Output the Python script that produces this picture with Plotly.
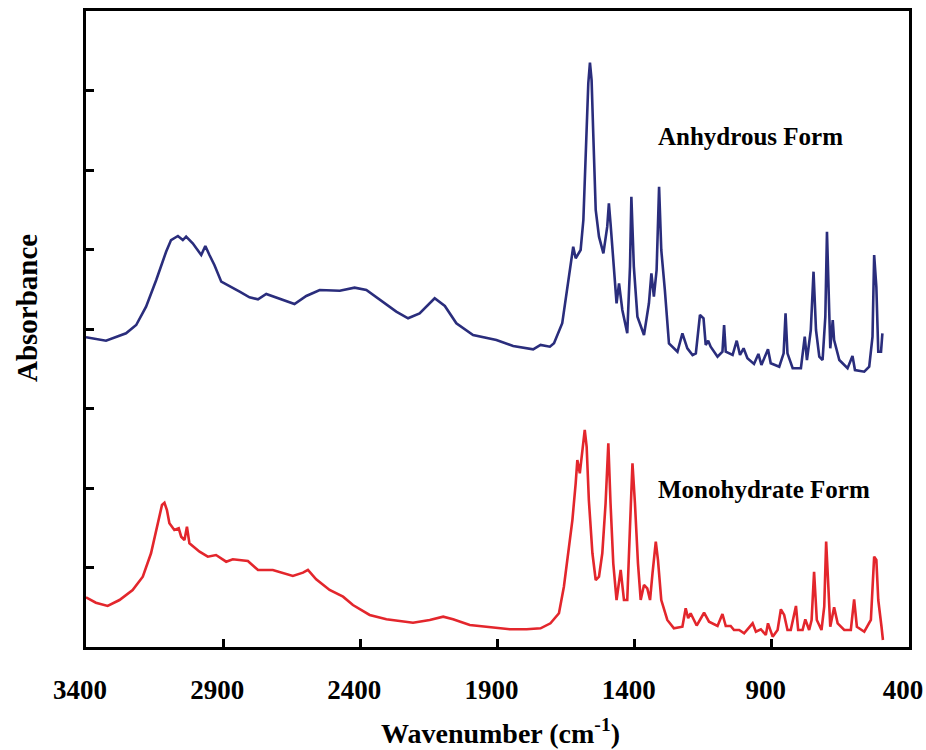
import plotly.graph_objects as go

# FTIR spectra of the two solid forms (wavenumber in cm-1, absorbance offset for display)
anhydrous_wn = [3400, 3327, 3254, 3217, 3181, 3144, 3108, 3090, 3065, 3047, 3035, 3011, 2980, 2965,
                2950, 2932, 2907, 2877, 2840, 2804, 2773, 2743, 2694, 2640, 2597, 2548, 2475, 2421,
                2378, 2329, 2269, 2226, 2184, 2129, 2092, 2050, 1989, 1904, 1843, 1770, 1743, 1709,
                1694, 1664, 1646, 1631, 1624, 1615, 1597, 1587, 1579, 1569, 1563, 1557, 1551, 1542,
                1530, 1514, 1500, 1494, 1488, 1476, 1466, 1457, 1445, 1427, 1417, 1412, 1403, 1390,
                1366, 1348, 1339, 1330, 1320, 1311, 1303, 1290, 1275, 1244, 1226, 1208, 1189, 1177,
                1162, 1149, 1141, 1132, 1123, 1098, 1080, 1074, 1068, 1043, 1028, 1016, 1003, 989,
                965, 949, 938, 914, 904, 873, 857, 850, 843, 824, 794, 780, 772, 758, 748, 739, 727,
                715, 705, 699, 693, 687, 678, 673, 654, 624, 606, 597, 563, 545, 533, 527, 519, 512,
                502, 497]
anhydrous_abs = [3.896, 3.853, 3.946, 4.050, 4.281, 4.616, 4.972, 5.119, 5.170, 5.119, 5.161, 5.078,
                 4.931, 5.044, 4.931, 4.805, 4.595, 4.541, 4.469, 4.399, 4.374, 4.440, 4.381, 4.314,
                 4.415, 4.491, 4.482, 4.520, 4.491, 4.365, 4.218, 4.135, 4.197, 4.386, 4.289, 4.072,
                 3.925, 3.862, 3.786, 3.745, 3.799, 3.777, 3.820, 4.072, 4.491, 4.826, 5.035, 4.889,
                 4.994, 5.371, 6.167, 7.091, 7.350, 7.132, 6.462, 5.497, 5.161, 4.952, 5.287, 5.581,
                 5.330, 4.784, 4.323, 4.575, 4.239, 3.946, 4.784, 5.664, 4.784, 4.155, 3.925, 4.323,
                 4.701, 4.406, 4.742, 5.790, 4.994, 4.491, 3.820, 3.714, 3.946, 3.757, 3.673, 3.694,
                 4.176, 4.135, 3.799, 3.853, 3.777, 3.652, 3.714, 4.050, 3.714, 3.673, 3.853, 3.673,
                 3.757, 3.631, 3.560, 3.686, 3.547, 3.745, 3.569, 3.526, 3.694, 4.197, 3.694, 3.506,
                 3.506, 3.903, 3.610, 3.987, 4.721, 3.987, 3.652, 3.610, 4.155, 5.224, 4.406, 3.757,
                 4.113, 3.862, 3.610, 3.506, 3.660, 3.484, 3.463, 3.526, 3.903, 4.931, 4.532, 3.714,
                 3.714, 3.946]

monohydrate_wn = [3400, 3364, 3321, 3278, 3230, 3193, 3163, 3138, 3123, 3114, 3105, 3096, 3078, 3062,
                  3053, 3041, 3032, 3023, 2986, 2956, 2926, 2889, 2865, 2810, 2773, 2719, 2646, 2609,
                  2591, 2561, 2512, 2463, 2427, 2366, 2305, 2208, 2147, 2098, 2062, 2001, 1940, 1855,
                  1794, 1743, 1707, 1676, 1658, 1640, 1627, 1615, 1609, 1600, 1591, 1582, 1575, 1567,
                  1554, 1542, 1530, 1518, 1506, 1496, 1488, 1478, 1466, 1451, 1439, 1427, 1417, 1408,
                  1399, 1388, 1378, 1366, 1354, 1344, 1335, 1323, 1315, 1303, 1281, 1257, 1226, 1214,
                  1205, 1196, 1174, 1147, 1129, 1098, 1080, 1068, 1050, 1038, 1019, 1001, 970, 958,
                  940, 922, 914, 897, 879, 867, 855, 843, 831, 812, 804, 788, 778, 764, 755, 746, 736,
                  719, 709, 702, 694, 687, 673, 660, 636, 612, 600, 590, 563, 539, 527, 519, 512, 505,
                  500, 495]
monohydrate_abs = [0.625, 0.557, 0.516, 0.591, 0.717, 0.884, 1.179, 1.556, 1.786, 1.815, 1.723,
                   1.556, 1.472, 1.493, 1.387, 1.346, 1.513, 1.304, 1.199, 1.136, 1.157, 1.073,
                   1.103, 1.082, 0.969, 0.969, 0.893, 0.935, 0.969, 0.852, 0.717, 0.633, 0.528,
                   0.403, 0.348, 0.306, 0.340, 0.381, 0.348, 0.277, 0.255, 0.223, 0.223, 0.235,
                   0.298, 0.424, 0.758, 1.262, 1.597, 2.059, 2.352, 2.185, 2.478, 2.730, 2.519,
                   1.849, 1.179, 0.843, 0.884, 1.179, 1.808, 2.562, 1.808, 1.053, 0.591, 0.969,
                   0.591, 0.591, 1.513, 2.311, 1.808, 1.053, 0.591, 0.780, 0.738, 0.591, 0.927,
                   1.325, 1.094, 0.591, 0.340, 0.235, 0.255, 0.487, 0.361, 0.424, 0.270, 0.431,
                   0.318, 0.264, 0.415, 0.264, 0.264, 0.214, 0.214, 0.172, 0.298, 0.192, 0.223,
                   0.151, 0.298, 0.130, 0.214, 0.474, 0.403, 0.214, 0.214, 0.516, 0.214, 0.214,
                   0.348, 0.214, 0.340, 0.947, 0.340, 0.214, 0.507, 1.325, 0.758, 0.255, 0.499,
                   0.298, 0.214, 0.214, 0.600, 0.255, 0.192, 0.340, 1.136, 1.094, 0.591, 0.340,
                   0.248, 0.088]

x_ticks = [3400, 2900, 2400, 1900, 1400, 900, 400]
y_ticks = [1, 2, 3, 4, 5, 6, 7]

SERIF = "Liberation Serif, Times New Roman, serif"

fig = go.Figure()
fig.add_trace(go.Scatter(x=anhydrous_wn, y=anhydrous_abs, mode="lines",
                         line=dict(color="#2a2d7c", width=2.6), name="Anhydrous Form"))
fig.add_trace(go.Scatter(x=monohydrate_wn, y=monohydrate_abs, mode="lines",
                         line=dict(color="#e3262c", width=2.6), name="Monohydrate Form"))

fig.update_layout(
    width=926, height=750,
    margin=dict(l=86, r=17, t=11, b=103),
    paper_bgcolor="white", plot_bgcolor="white",
    showlegend=False,
    font=dict(family=SERIF, color="black"),
)

# reversed wavenumber axis: a positive label shift moves the labels slightly left
fig.update_xaxes(
    range=[3400, 400], tickvals=x_ticks, ticktext=[str(v) for v in x_ticks],
    ticks="inside", ticklen=8, tickwidth=2.5, tickcolor="black",
    showline=True, linewidth=3, linecolor="black", mirror=True,
    showgrid=False, zeroline=False, automargin=False,
    tickfont=dict(family=SERIF, size=27, weight="bold", color="black"),
    ticklabelstandoff=17, ticklabelshift=6, ticklabeloverflow="allow",
)
fig.update_yaxes(
    range=[0, 8], tickvals=y_ticks, showticklabels=False,
    ticks="inside", ticklen=8, tickwidth=2.5, tickcolor="black",
    showline=True, linewidth=3, linecolor="black", mirror=True,
    showgrid=False, zeroline=False, automargin=False,
)

fig.add_annotation(text="Wavenumber (cm<sup>-1</sup>)", xref="paper", yref="paper",
                   x=0.504, y=-0.1336, xanchor="center", yanchor="middle", showarrow=False,
                   font=dict(family=SERIF, size=28, weight="bold", color="black"))
fig.add_annotation(text="Absorbance", xref="paper", yref="paper", textangle=-90,
                   x=-0.0717, y=0.533, xanchor="center", yanchor="middle", showarrow=False,
                   font=dict(family=SERIF, size=29, weight="bold", color="black"))
fig.add_annotation(text="Anhydrous Form", xref="paper", yref="paper",
                   x=0.692, y=0.802, xanchor="left", yanchor="middle", showarrow=False,
                   font=dict(family=SERIF, size=25, weight="bold", color="black"))
fig.add_annotation(text="Monohydrate Form", xref="paper", yref="paper",
                   x=0.692, y=0.247, xanchor="left", yanchor="middle", showarrow=False,
                   font=dict(family=SERIF, size=25, weight="bold", color="black"))

fig.write_html("out.html")
